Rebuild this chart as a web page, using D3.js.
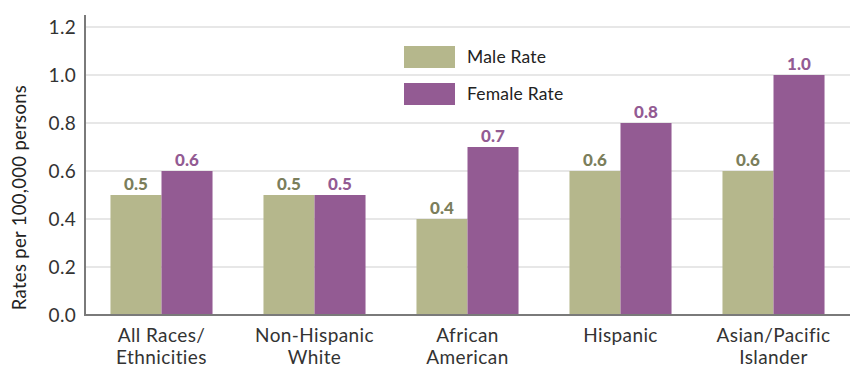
<!DOCTYPE html>
<html>
<head>
<meta charset="utf-8">
<script src="https://cdn.jsdelivr.net/npm/d3@7"></script>
<style>
  html, body { margin: 0; padding: 0; background: #fff; }
  svg { display: block; font-family: Lato, "Open Sans", sans-serif; }
</style>
</head>
<body>
<svg id="chart" width="856" height="367"></svg>
<script>
// Rates per 100,000 persons by race/ethnicity and sex
const categories = [
  ["All Races/", "Ethnicities"],
  ["Non-Hispanic", "White"],
  ["African", "American"],
  ["Hispanic"],
  ["Asian/Pacific", "Islander"]
];
const maleRate = [0.5, 0.5, 0.4, 0.6, 0.6];
const femaleRate = [0.6, 0.5, 0.7, 0.8, 1.0];
const seriesNames = ["Male Rate", "Female Rate"];
const yTicks = [0, 0.2, 0.4, 0.6, 0.8, 1.0, 1.2];

const colors = { bar: ["#b5b78c", "#935b93"], label: ["#7b7e5b", "#935b93"] };

const svg = d3.select("#chart");
const margin = { left: 85, right: 6, top: 15, bottom: 52 };
const W = 856, H = 367;

const keys = categories.map(c => c.join(" "));
const x = d3.scaleBand().domain(keys).range([margin.left, W - margin.right]).paddingInner(0.333).paddingOuter(0.1665);
const x1 = d3.scaleBand().domain([0, 1]).range([0, x.bandwidth()]);
const y = d3.scaleLinear().domain([0, 1.2]).range([315, 27]);

// gridlines
svg.append("g").selectAll("line").data(yTicks.slice(1)).join("line")
  .attr("x1", margin.left).attr("x2", W - margin.right)
  .attr("y1", d => y(d)).attr("y2", d => y(d))
  .attr("stroke", "#d0d0d0").attr("stroke-width", 1.2);

// y tick labels
svg.append("g").selectAll("text").data(yTicks).join("text")
  .attr("x", 76).attr("y", d => y(d)).attr("dy", "0.36em")
  .attr("text-anchor", "end").attr("font-size", 19).attr("letter-spacing", 0.3).attr("fill", "#333")
  .text(d => d3.format(".1f")(d));

// bars
const rows = keys.map((k, i) => ({ k, vals: [maleRate[i], femaleRate[i]] }));
const grp = svg.append("g").selectAll("g").data(rows).join("g")
  .attr("transform", d => `translate(${x(d.k)},0)`);
grp.selectAll("rect").data(d => d.vals).join("rect")
  .attr("x", (d, j) => x1(j)).attr("width", x1.bandwidth())
  .attr("y", d => y(d)).attr("height", d => y(0) - y(d))
  .attr("fill", (d, j) => colors.bar[j]);
grp.selectAll("text").data(d => d.vals).join("text")
  .attr("x", (d, j) => x1(j) + x1.bandwidth() / 2).attr("y", d => y(d) - 5)
  .attr("text-anchor", "middle").attr("font-size", 17).attr("font-weight", 900)
  .attr("fill", (d, j) => colors.label[j])
  .text(d => d3.format(".1f")(d));

// axes lines
svg.append("line").attr("x1", margin.left).attr("x2", margin.left)
  .attr("y1", margin.top).attr("y2", y(0) + 1)
  .attr("stroke", "#7a7a7a").attr("stroke-width", 2);
svg.append("line").attr("x1", margin.left - 1).attr("x2", W - margin.right)
  .attr("y1", y(0)).attr("y2", y(0))
  .attr("stroke", "#7a7a7a").attr("stroke-width", 2);

// category labels
svg.append("g").selectAll("text").data(categories).join("text")
  .attr("x", (d, i) => x(keys[i]) + x.bandwidth() / 2)
  .attr("y", 342).attr("text-anchor", "middle").attr("font-size", 19).attr("letter-spacing", 0.4).attr("fill", "#333")
  .selectAll("tspan").data(d => d).join("tspan")
  .attr("x", function () { return this.parentNode.getAttribute("x"); })
  .attr("dy", (d, i) => i ? 21.5 : 0).text(d => d);

// y axis title
svg.append("text").attr("transform", `translate(26,${(y(0) + 80) / 2}) rotate(-90)`)
  .attr("text-anchor", "middle").attr("font-size", 18.5).attr("letter-spacing", 0.3).attr("fill", "#222")
  .text("Rates per 100,000 persons");

// legend
const lg = svg.append("g").selectAll("g").data(seriesNames).join("g")
  .attr("transform", (d, i) => `translate(404,${46 + i * 37})`);
lg.append("rect").attr("width", 51).attr("height", 22).attr("fill", (d, i) => colors.bar[i]);
lg.append("text").attr("x", 63).attr("y", 11).attr("dy", "0.36em")
  .attr("font-size", 17.5).attr("letter-spacing", 0.2).attr("fill", "#222").text(d => d);
</script>
</body>
</html>
